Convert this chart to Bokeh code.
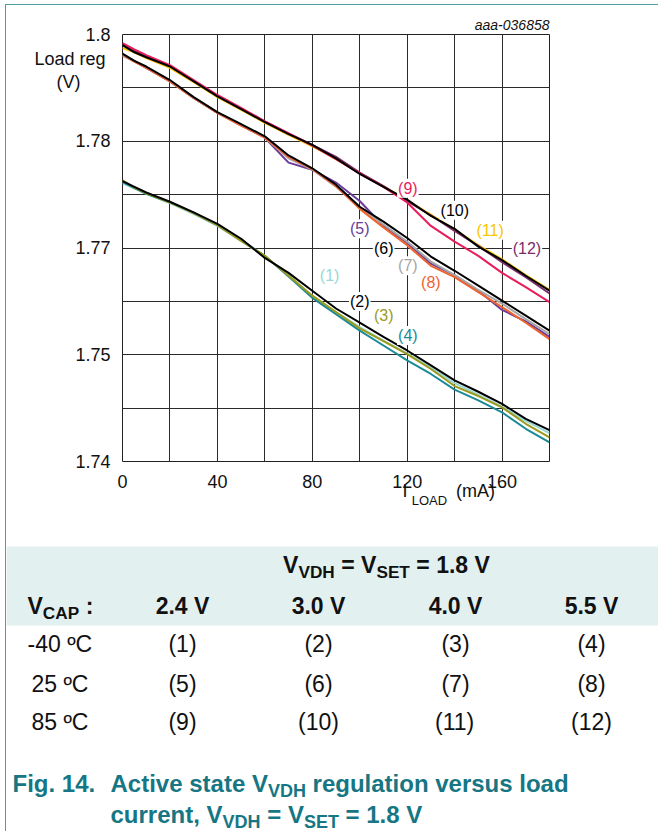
from bokeh.plotting import figure
from bokeh.models import Range1d, FixedTicker, Label, LinearAxis
from bokeh.embed import file_html
from bokeh.resources import INLINE
from bokeh.core.properties import value

# ---------------- data ----------------
x_load = [0, 5, 10, 20, 30, 40, 50, 60, 70, 80, 90, 100, 110, 120, 130, 140, 150, 160, 170, 180]

# -40 C group
s1 = [1.7791, 1.7784, 1.7776, 1.7763, 1.7748, 1.7731, 1.7710, 1.7688, 1.7662, 1.7633, 1.7610, 1.7589, 1.7570, 1.7552, 1.7532, 1.7510, 1.7494, 1.7477, 1.7457, 1.7440]
s2 = [1.7794, 1.7786, 1.7778, 1.7765, 1.7750, 1.7734, 1.7713, 1.7686, 1.7665, 1.7640, 1.7615, 1.7595, 1.7575, 1.7556, 1.7535, 1.7514, 1.7498, 1.7481, 1.7460, 1.7444]
s3 = [1.7795, 1.7785, 1.7777, 1.7764, 1.7749, 1.7732, 1.7710, 1.7689, 1.7661, 1.7633, 1.7610, 1.7587, 1.7569, 1.7551, 1.7530, 1.7506, 1.7492, 1.7476, 1.7453, 1.7434]
s4 = [1.7793, 1.7784, 1.7776, 1.7764, 1.7749, 1.7732, 1.7711, 1.7689, 1.7660, 1.7630, 1.7607, 1.7584, 1.7563, 1.7542, 1.7523, 1.7501, 1.7486, 1.7469, 1.7446, 1.7427]
# 25 C group
s5 = [1.7971, 1.7963, 1.7953, 1.7934, 1.7911, 1.7890, 1.7873, 1.7855, 1.7820, 1.7810, 1.7792, 1.7766, 1.7731, 1.7707, 1.7678, 1.7662, 1.7640, 1.7613, 1.7597, 1.7575]
s6 = [1.7973, 1.7963, 1.7955, 1.7936, 1.7912, 1.7891, 1.7874, 1.7857, 1.7830, 1.7812, 1.7789, 1.7758, 1.7737, 1.7714, 1.7688, 1.7668, 1.7647, 1.7626, 1.7605, 1.7584]
s7 = [1.7970, 1.7962, 1.7953, 1.7934, 1.7911, 1.7890, 1.7872, 1.7855, 1.7826, 1.7810, 1.7786, 1.7757, 1.7733, 1.7709, 1.7681, 1.7662, 1.7641, 1.7622, 1.7600, 1.7579]
s8 = [1.7972, 1.7962, 1.7953, 1.7934, 1.7911, 1.7890, 1.7872, 1.7855, 1.7828, 1.7811, 1.7787, 1.7755, 1.7729, 1.7704, 1.7675, 1.7659, 1.7638, 1.7617, 1.7595, 1.7572]
# 85 C group
s9 = [1.7988, 1.7979, 1.7971, 1.7957, 1.7936, 1.7915, 1.7897, 1.7878, 1.7861, 1.7844, 1.7825, 1.7805, 1.7786, 1.7764, 1.7731, 1.7709, 1.7689, 1.7665, 1.7645, 1.7624]
s10 = [1.7985, 1.7975, 1.7968, 1.7955, 1.7934, 1.7913, 1.7895, 1.7877, 1.7860, 1.7845, 1.7826, 1.7804, 1.7786, 1.7768, 1.7745, 1.7727, 1.7702, 1.7683, 1.7661, 1.7640]
s11 = [1.7981, 1.7975, 1.7967, 1.7953, 1.7933, 1.7912, 1.7894, 1.7876, 1.7859, 1.7843, 1.7825, 1.7805, 1.7787, 1.7767, 1.7747, 1.7726, 1.7704, 1.7684, 1.7662, 1.7641]
s12 = [1.7987, 1.7977, 1.7970, 1.7956, 1.7935, 1.7914, 1.7896, 1.7878, 1.7861, 1.7845, 1.7828, 1.7806, 1.7787, 1.7766, 1.7746, 1.7724, 1.7703, 1.7680, 1.7659, 1.7636]

series = [s1, s2, s3, s4, s5, s6, s7, s8, s9, s10, s11, s12]
series_names = ["(1)", "(2)", "(3)", "(4)", "(5)", "(6)", "(7)", "(8)", "(9)", "(10)", "(11)", "(12)"]
series_colors = ["#97d8d4", "#000000", "#9c9a1c", "#1b8a98", "#6a3d9a", "#000000",
                 "#a6a6a6", "#ef632f", "#ea1d5c", "#000000", "#fbc500", "#7b2c69"]
draw_order = [0, 3, 2, 1, 4, 6, 7, 5, 10, 11, 8, 9]

label_x = [87.3, 100.0, 110.1, 120.3, 100.0, 110.1, 120.3, 130.0, 120.3, 140.1, 155.0, 170.5]
label_y = [1.7661, 1.7625, 1.7605, 1.7577, 1.7727, 1.7700, 1.7675, 1.7652, 1.7784, 1.7753, 1.7725, 1.7700]

x_ticks = [0, 40, 80, 120, 160]
y_ticks = [1.74, 1.755, 1.77, 1.785, 1.8]
y_tick_labels = ["1.74", "1.75", "1.77", "1.78", "1.8"]
x_grid = [0, 20, 40, 60, 80, 100, 120, 140, 160, 180]
y_grid = [1.74, 1.7475, 1.755, 1.7625, 1.77, 1.7775, 1.785, 1.7925, 1.8]

y_title_pos = [1.79656, 1.79326]
y_title_text = ["Load reg\u00a0", "(V)\u00a0\u00a0\u00a0\u00a0\u00a0\u00a0"]
x_title_main_pos = [119.1, 148.8]
x_title_main_text = ["I", "(mA)"]
x_title_sub_pos = [129.4]
x_title_sub_text = ["LOAD"]

vcap_values = ["2.4 V", "3.0 V", "4.0 V", "5.5 V"]
temps = ["-40 ºC", "25 ºC", "85 ºC"]
curve_ids = [["(1)", "(2)", "(3)", "(4)"], ["(5)", "(6)", "(7)", "(8)"], ["(9)", "(10)", "(11)", "(12)"]]

FONT = "Liberation Sans"
TEAL = "#167683"
BORDER = "#4f9ea6"
INK = "#111111"

# Arial / Liberation Sans advance widths (per 1000 em)
REG = {" ": 278, "(": 333, ")": 333, ".": 278, ",": 278, "-": 333, "º": 365, ":": 278, "=": 584,
       "A": 667, "C": 722, "D": 722, "E": 667, "H": 722, "I": 278, "L": 556, "O": 778, "P": 667,
       "S": 667, "T": 611, "V": 667, "m": 833}
BOLD = {" ": 278, "(": 333, ")": 333, ".": 278, ",": 278, ":": 333, "=": 584,
        "A": 722, "C": 722, "D": 722, "E": 667, "F": 611, "H": 722, "P": 667, "S": 667, "T": 611, "V": 667,
        "a": 556, "c": 556, "d": 611, "e": 556, "g": 611, "i": 278, "l": 278, "n": 611, "o": 611,
        "r": 389, "s": 556, "t": 333, "u": 611, "v": 556}


def tw(s, size, bold=False):
    t = BOLD if bold else REG
    return sum(t.get(c, 556) for c in s) * size / 1000.0


def plain_axis(ax, size, standoff):
    ax.axis_line_color = None
    ax.major_tick_out = 0
    ax.major_tick_in = 0
    ax.minor_tick_out = 0
    ax.minor_tick_in = 0
    ax.major_label_text_font = FONT
    ax.major_label_text_font_size = f"{size}px"
    ax.major_label_text_color = INK
    ax.major_label_standoff = standoff


# ---------------- chart ----------------
p = figure(width=653, height=530, x_range=Range1d(0, 180), y_range=Range1d(1.74, 1.8),
           output_backend="svg", toolbar_location=None, title="aaa-036858",
           min_border_left=116, min_border_right=110, min_border_top=29, min_border_bottom=74,
           styles={"margin-left": "5px", "margin-top": "4px",
                   "border-left": f"1px solid {BORDER}", "border-top": f"1px solid {BORDER}"})
p.title.align = "right"
p.title.text_font = FONT
p.title.text_font_size = "14px"
p.title.text_font_style = "italic"
p.title.text_color = INK
p.title.standoff = 3
p.outline_line_color = "#222222"
p.outline_line_width = 1
p.background_fill_color = "white"
p.border_fill_color = "white"

xmain = p.below[0]
ymain = p.left[0]
xmain.ticker = FixedTicker(ticks=x_ticks)
ymain.ticker = FixedTicker(ticks=y_ticks + y_title_pos)
ymain.major_label_overrides = {t: l for t, l in zip(y_ticks + y_title_pos, y_tick_labels + y_title_text)}
plain_axis(xmain, 18, 13)
plain_axis(ymain, 18, 12)

# x-axis title "I_LOAD (mA)" built from two extra axes (main text + subscript)
ax_t = LinearAxis(ticker=FixedTicker(ticks=x_title_main_pos),
                  major_label_overrides={t: l for t, l in zip(x_title_main_pos, x_title_main_text)})
plain_axis(ax_t, 18, -10)
p.add_layout(ax_t, "below")
ax_s = LinearAxis(ticker=FixedTicker(ticks=x_title_sub_pos),
                  major_label_overrides={t: l for t, l in zip(x_title_sub_pos, x_title_sub_text)})
plain_axis(ax_s, 13, -11)
p.add_layout(ax_s, "below")

p.xgrid.ticker = FixedTicker(ticks=x_grid)
p.ygrid.ticker = FixedTicker(ticks=y_grid)
for g in (p.xgrid, p.ygrid):
    g.grid_line_color = "#2b2b2b"
    g.grid_line_width = 1
    g.grid_line_alpha = 1.0

for i in draw_order:
    p.line(x_load, series[i], line_color=series_colors[i], line_width=2)

for i in range(12):
    p.add_layout(Label(x=label_x[i], y=label_y[i], text=series_names[i], text_color=series_colors[i],
                       text_font=FONT, text_font_size="16px", text_align="center",
                       text_baseline="middle", background_fill_color="white", padding=1))

# ---------------- table + caption (page-pixel coordinates) ----------------
q = figure(width=653, height=297, x_range=Range1d(6, 659), y_range=Range1d(832, 535),
           output_backend="svg", toolbar_location=None, x_axis_type=None, y_axis_type=None,
           min_border=0, styles={"margin-left": "5px", "border-left": f"1px solid {BORDER}"})
q.title.visible = False
q.outline_line_color = None
q.xgrid.visible = False
q.ygrid.visible = False
q.quad(left=[6], right=[659], top=[547], bottom=[626], fill_color="#e3f0f0", line_color=None)

SUB = 0.75


def run(x, base, parts, size, bold, color, align="left"):
    """Write text pieces (some as subscripts) on one line whose baseline is `base`."""
    widths = []
    for txt, sub in parts:
        fs = size * SUB if sub else size
        widths.append(tw(txt, fs, bold))
    total = sum(widths)
    if align == "center":
        x = x - total / 2
    for (txt, sub), w in zip(parts, widths):
        fs = size * SUB if sub else size
        b = base + size * 0.22 if sub else base
        lead = len(txt) - len(txt.lstrip(" "))
        q.text(x=[x + tw(" " * lead, fs, bold)], y=[b - 0.3465 * fs], text=[txt.strip(" ")],
               text_font=value(FONT), text_font_size=f"{fs:.1f}px",
               text_font_style="bold" if bold else "normal", text_color=color,
               text_align="left", text_baseline="middle")
        x += w


col_x = [182, 318, 455, 591]
row_base = [652, 692, 730]

run(386, 573, [("V", False), ("VDH", True), (" = ", False), ("V", False), ("SET", True), (" = 1.8 V", False)],
    23, True, INK, align="center")
run(27, 614, [("V", False), ("CAP", True), (" :", False)], 23, True, INK)
for cx, v in zip(col_x, vcap_values):
    run(cx, 614, [(v, False)], 23, True, INK, align="center")
for r, (t, ids) in enumerate(zip(temps, curve_ids)):
    run(27 if t.startswith("-") else 31, row_base[r], [(t, False)], 23, False, INK)
    for cx, cid in zip(col_x, ids):
        run(cx, row_base[r], [(cid, False)], 23, False, INK, align="center")

run(12, 792, [("Fig. 14.", False)], 24, True, TEAL)
run(110, 792, [("Active state ", False), ("V", False), ("VDH", True), (" regulation versus load", False)],
    24, True, TEAL)
run(110, 823, [("current, ", False), ("V", False), ("VDH", True), (" = ", False), ("V", False),
               ("SET", True), (" = 1.8 V", False)], 24, True, TEAL)

open("out.html", "w").write(file_html([p, q], INLINE))
